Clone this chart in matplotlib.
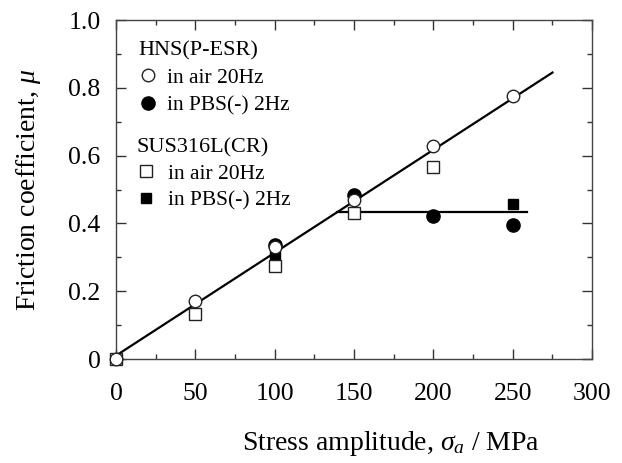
import numpy as np
import matplotlib
matplotlib.use('Agg')
import matplotlib.pyplot as plt
from matplotlib.ticker import MultipleLocator, FuncFormatter

plt.rcParams['font.family'] = ['Liberation Serif', 'DejaVu Serif']
plt.rcParams['mathtext.fontset'] = 'custom'
plt.rcParams['mathtext.rm'] = 'Liberation Serif'
plt.rcParams['mathtext.it'] = 'Liberation Serif:italic'

# datos
hns_air_x = [0, 50, 100, 150, 200, 250]
hns_air_y = [0.0, 0.171, 0.329, 0.469, 0.628, 0.777]
hns_pbs_x = [100, 150, 200, 250]
hns_pbs_y = [0.336, 0.484, 0.423, 0.395]
sus_air_x = [0, 50, 100, 150, 200]
sus_air_y = [0.0, 0.132, 0.274, 0.430, 0.565]
sus_pbs_x = [100, 250]
sus_pbs_y = [0.304, 0.456]

# lineas de tendencia
fit_x = [0, 275]
fit_y = [0.01, 0.845]
plateau_x = [139, 259]
plateau_y = [0.433, 0.433]

fig = plt.figure(figsize=(6.22, 4.63), dpi=100)
ax = fig.add_axes([0.1865, 0.2246, 0.7655, 0.7322])

ax.plot(fit_x, fit_y, color='black', lw=1.6, zorder=2)
ax.plot(plateau_x, plateau_y, color='black', lw=1.6, zorder=2)

h1, = ax.plot(hns_pbs_x, hns_pbs_y, 'o', color='black', markersize=9.5, zorder=3,
              ls='none', clip_on=False)
s2, = ax.plot(sus_pbs_x, sus_pbs_y, 's', color='black', markersize=7.5, zorder=3,
              ls='none', clip_on=False)
s1, = ax.plot(sus_air_x, sus_air_y, 's', mfc='white', mec='#222222', mew=1.0,
              markersize=9, zorder=4, ls='none', clip_on=False)
h0, = ax.plot(hns_air_x, hns_air_y, 'o', mfc='white', mec='#222222', mew=1.0,
              markersize=9, zorder=5, ls='none', clip_on=False)

ax.set_xlim(0, 300)
ax.set_ylim(0, 1.0)
ax.xaxis.set_major_locator(MultipleLocator(50))
ax.xaxis.set_minor_locator(MultipleLocator(25))
ax.yaxis.set_major_locator(MultipleLocator(0.2))
ax.yaxis.set_minor_locator(MultipleLocator(0.1))
ax.yaxis.set_major_formatter(FuncFormatter(lambda v, p: '0' if abs(v) < 1e-9 else f'{v:.1f}'))

ax.tick_params(which='both', direction='in', top=True, right=True,
               color='#333333', labelsize=18.5)
ax.tick_params(axis='x', pad=17)
ax.tick_params(axis='y', pad=11)
ax.tick_params(which='major', length=7, width=1)
ax.tick_params(which='minor', length=3.6, width=1)
for sp in ax.spines.values():
    sp.set_color('#444444')
    sp.set_linewidth(1.0)

ax.set_ylabel(r'Friction coefficient, $\mu$', fontsize=20, va='center')
ax.yaxis.set_label_coords(-0.183, 0.5)
ax.set_xlabel(r'Stress amplitude, $\sigma_a$ / MPa', fontsize=20, va='baseline')
ax.xaxis.set_label_coords(0.577, -0.268)

leg1 = ax.legend([h0, h1], ['in air 20Hz', 'in PBS(-) 2Hz'], title='HNS(P-ESR)',
                 loc='upper left', bbox_to_anchor=(0.019, 0.975), frameon=False,
                 fontsize=15.5, title_fontsize=16, alignment='left',
                 handlelength=0.9, handletextpad=0.45, labelspacing=0.34,
                 borderaxespad=0.3, borderpad=0.3)
ax.add_artist(leg1)
ax.legend([s1, s2], ['in air 20Hz', 'in PBS(-) 2Hz'], title='SUS316L(CR)',
          loc='upper left', bbox_to_anchor=(0.015, 0.69), frameon=False,
          fontsize=15.5, title_fontsize=16, alignment='left',
          handlelength=0.9, handletextpad=0.6, labelspacing=0.3,
          borderaxespad=0.3, borderpad=0.3)

fig.savefig('out.png', dpi=100, facecolor='white')
plt.close(fig)
